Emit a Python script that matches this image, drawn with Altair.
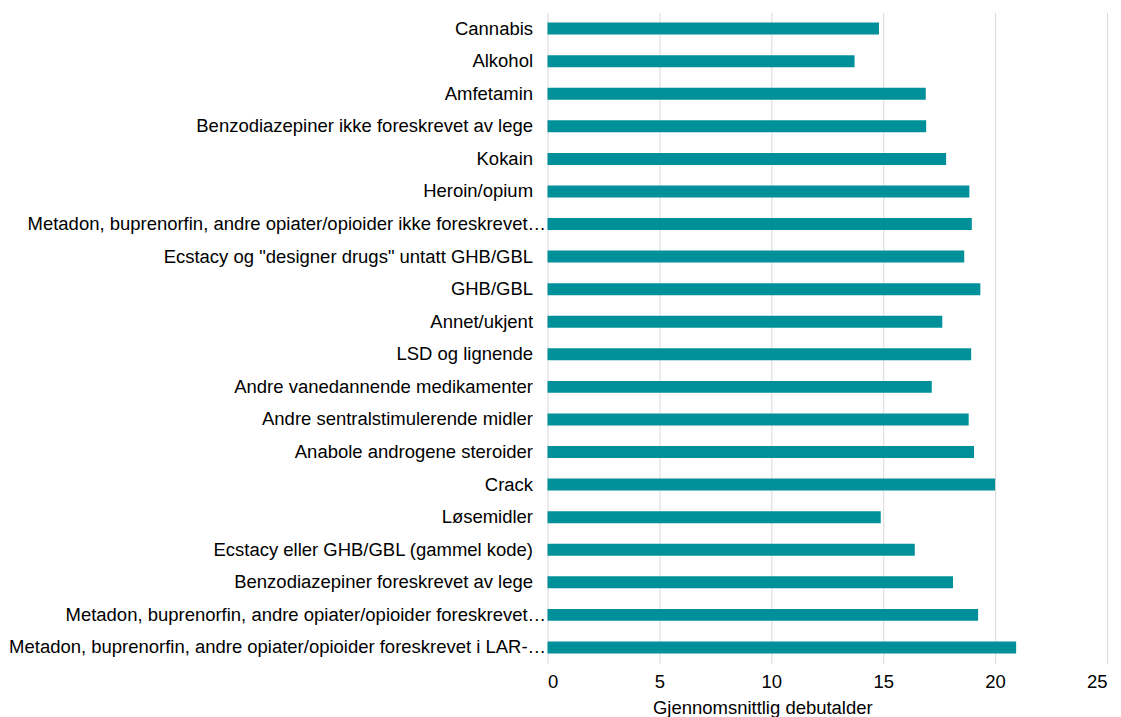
import altair as alt
import pandas as pd

# Category labels as displayed in the reference (long ones are shown truncated there)
categories = [
    "Cannabis",
    "Alkohol",
    "Amfetamin",
    "Benzodiazepiner ikke foreskrevet av lege",
    "Kokain",
    "Heroin/opium",
    "Metadon, buprenorfin, andre opiater/opioider ikke foreskrevet…",
    'Ecstacy og "designer drugs" untatt GHB/GBL',
    "GHB/GBL",
    "Annet/ukjent",
    "LSD og lignende",
    "Andre vanedannende medikamenter",
    "Andre sentralstimulerende midler",
    "Anabole androgene steroider",
    "Crack",
    "Løsemidler",
    "Ecstacy eller GHB/GBL (gammel kode)",
    "Benzodiazepiner foreskrevet av lege",
    "Metadon, buprenorfin, andre opiater/opioider foreskrevet…",
    "Metadon, buprenorfin, andre opiater/opioider foreskrevet i LAR-…",
]
values = [14.81, 13.72, 16.90, 16.92, 17.81, 18.85, 18.96, 18.62, 19.34, 17.64,
          18.93, 17.17, 18.82, 19.06, 20.0, 14.89, 16.41, 18.12, 19.24, 20.94]
x_ticks = [0, 5, 10, 15, 20, 25]

df = pd.DataFrame({"stoff": categories, "alder": values})

FONT = "Liberation Sans"
FS = 18.5

chart = (
    alt.Chart(df)
    .mark_bar(color="#00909A", size=12)
    .encode(
        y=alt.Y(
            "stoff:N",
            sort=categories,
            title=None,
            scale=alt.Scale(paddingInner=0, paddingOuter=0),
            axis=alt.Axis(
                domain=False,
                ticks=False,
                grid=False,
                labelFont=FONT,
                labelFontSize=FS,
                labelColor="#000000",
                labelPadding={
                    "condition": {"test": "length(datum.label) > 50", "value": 2},
                    "value": 15,
                },
                labelLimit=0,
            ),
        ),
        x=alt.X(
            "alder:Q",
            title="Gjennomsnittlig debutalder",
            scale=alt.Scale(domain=[0, 25], nice=False),
            axis=alt.Axis(
                values=x_ticks,
                domain=False,
                ticks=False,
                grid=True,
                gridColor="#d9d9d9",
                gridWidth=1,
                labelFont=FONT,
                labelFontSize=FS,
                labelColor="#000000",
                labelPadding=9,
                titleFont=FONT,
                titleFontSize=FS,
                titleFontWeight="normal",
                titleColor="#000000",
                titlePadding=7,
                titleX=215,
                titleAlign="center",
            ),
        ),
    )
    .properties(width=560, height=652, padding={"left": 0, "top": 4, "right": 6, "bottom": 0})
    .configure_view(stroke=None)
)

chart.save("out.html", embed_options={"renderer": "svg", "actions": False})
